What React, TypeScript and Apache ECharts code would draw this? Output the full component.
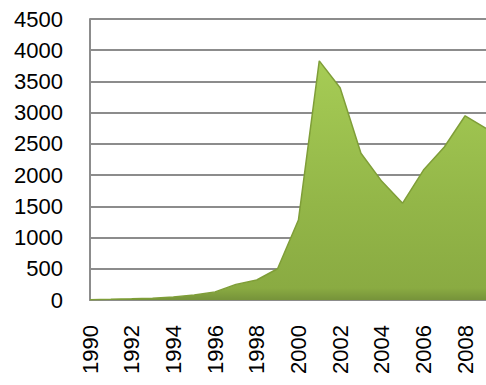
import React, { useEffect, useRef } from "react";
import * as echarts from "echarts";

const years = ["1990","1991","1992","1993","1994","1995","1996","1997","1998","1999","2000","2001","2002","2003","2004","2005","2006","2007","2008","2009"];
const values = [5, 12, 20, 30, 50, 80, 130, 250, 320, 500, 1280, 3830, 3400, 2350, 1900, 1550, 2080, 2450, 2950, 2750];
const yMin = 0;
const yMax = 4500;
const yStep = 500;

export default function App() {
  const ref = useRef<HTMLDivElement>(null);
  useEffect(() => {
    if (!ref.current) return;
    const chart = echarts.init(ref.current, undefined, { renderer: "svg" });
    chart.setOption({
      animation: false,
      grid: { left: 90, right: -8, top: 19, bottom: 85 },
      xAxis: {
        type: "category",
        data: years,
        boundaryGap: false,
        axisLine: { lineStyle: { color: "#8c8c8c", width: 2 } },
        axisTick: { show: false },
        axisLabel: {
          rotate: 90,
          interval: 1,
          margin: 25,
          color: "#000",
          fontSize: 22,
          fontFamily: "Liberation Sans",
        },
      },
      yAxis: {
        type: "value",
        min: yMin,
        max: yMax,
        interval: yStep,
        axisLine: { show: true, lineStyle: { color: "#8c8c8c", width: 2 } },
        axisTick: { show: false },
        splitLine: { lineStyle: { color: "#8c8c8c", width: 2 } },
        axisLabel: {
          margin: 27,
          color: "#000",
          fontSize: 22,
          fontFamily: "Liberation Sans",
          formatter: (v: number) => String(v),
        },
      },
      series: [
        {
          type: "line",
          data: values,
          symbol: "none",
          lineStyle: { color: "#7f9e38", width: 1.5 },
          areaStyle: {
            opacity: 1,
            color: new echarts.graphic.LinearGradient(0, 0, 0, 1, [
              { offset: 0, color: "#a6cc55" },
              { offset: 0.6, color: "#93b648" },
              { offset: 0.95, color: "#8aab42" },
              { offset: 1, color: "#76933a" },
            ]),
          },
        },
      ],
    });
    return () => chart.dispose();
  }, []);
  return (
    <div style={{ position: "absolute", left: 0, top: 0, width: 486, height: 385, overflow: "hidden" }}>
      <div ref={ref} style={{ width: 486, height: 385 }} />
    </div>
  );
}
